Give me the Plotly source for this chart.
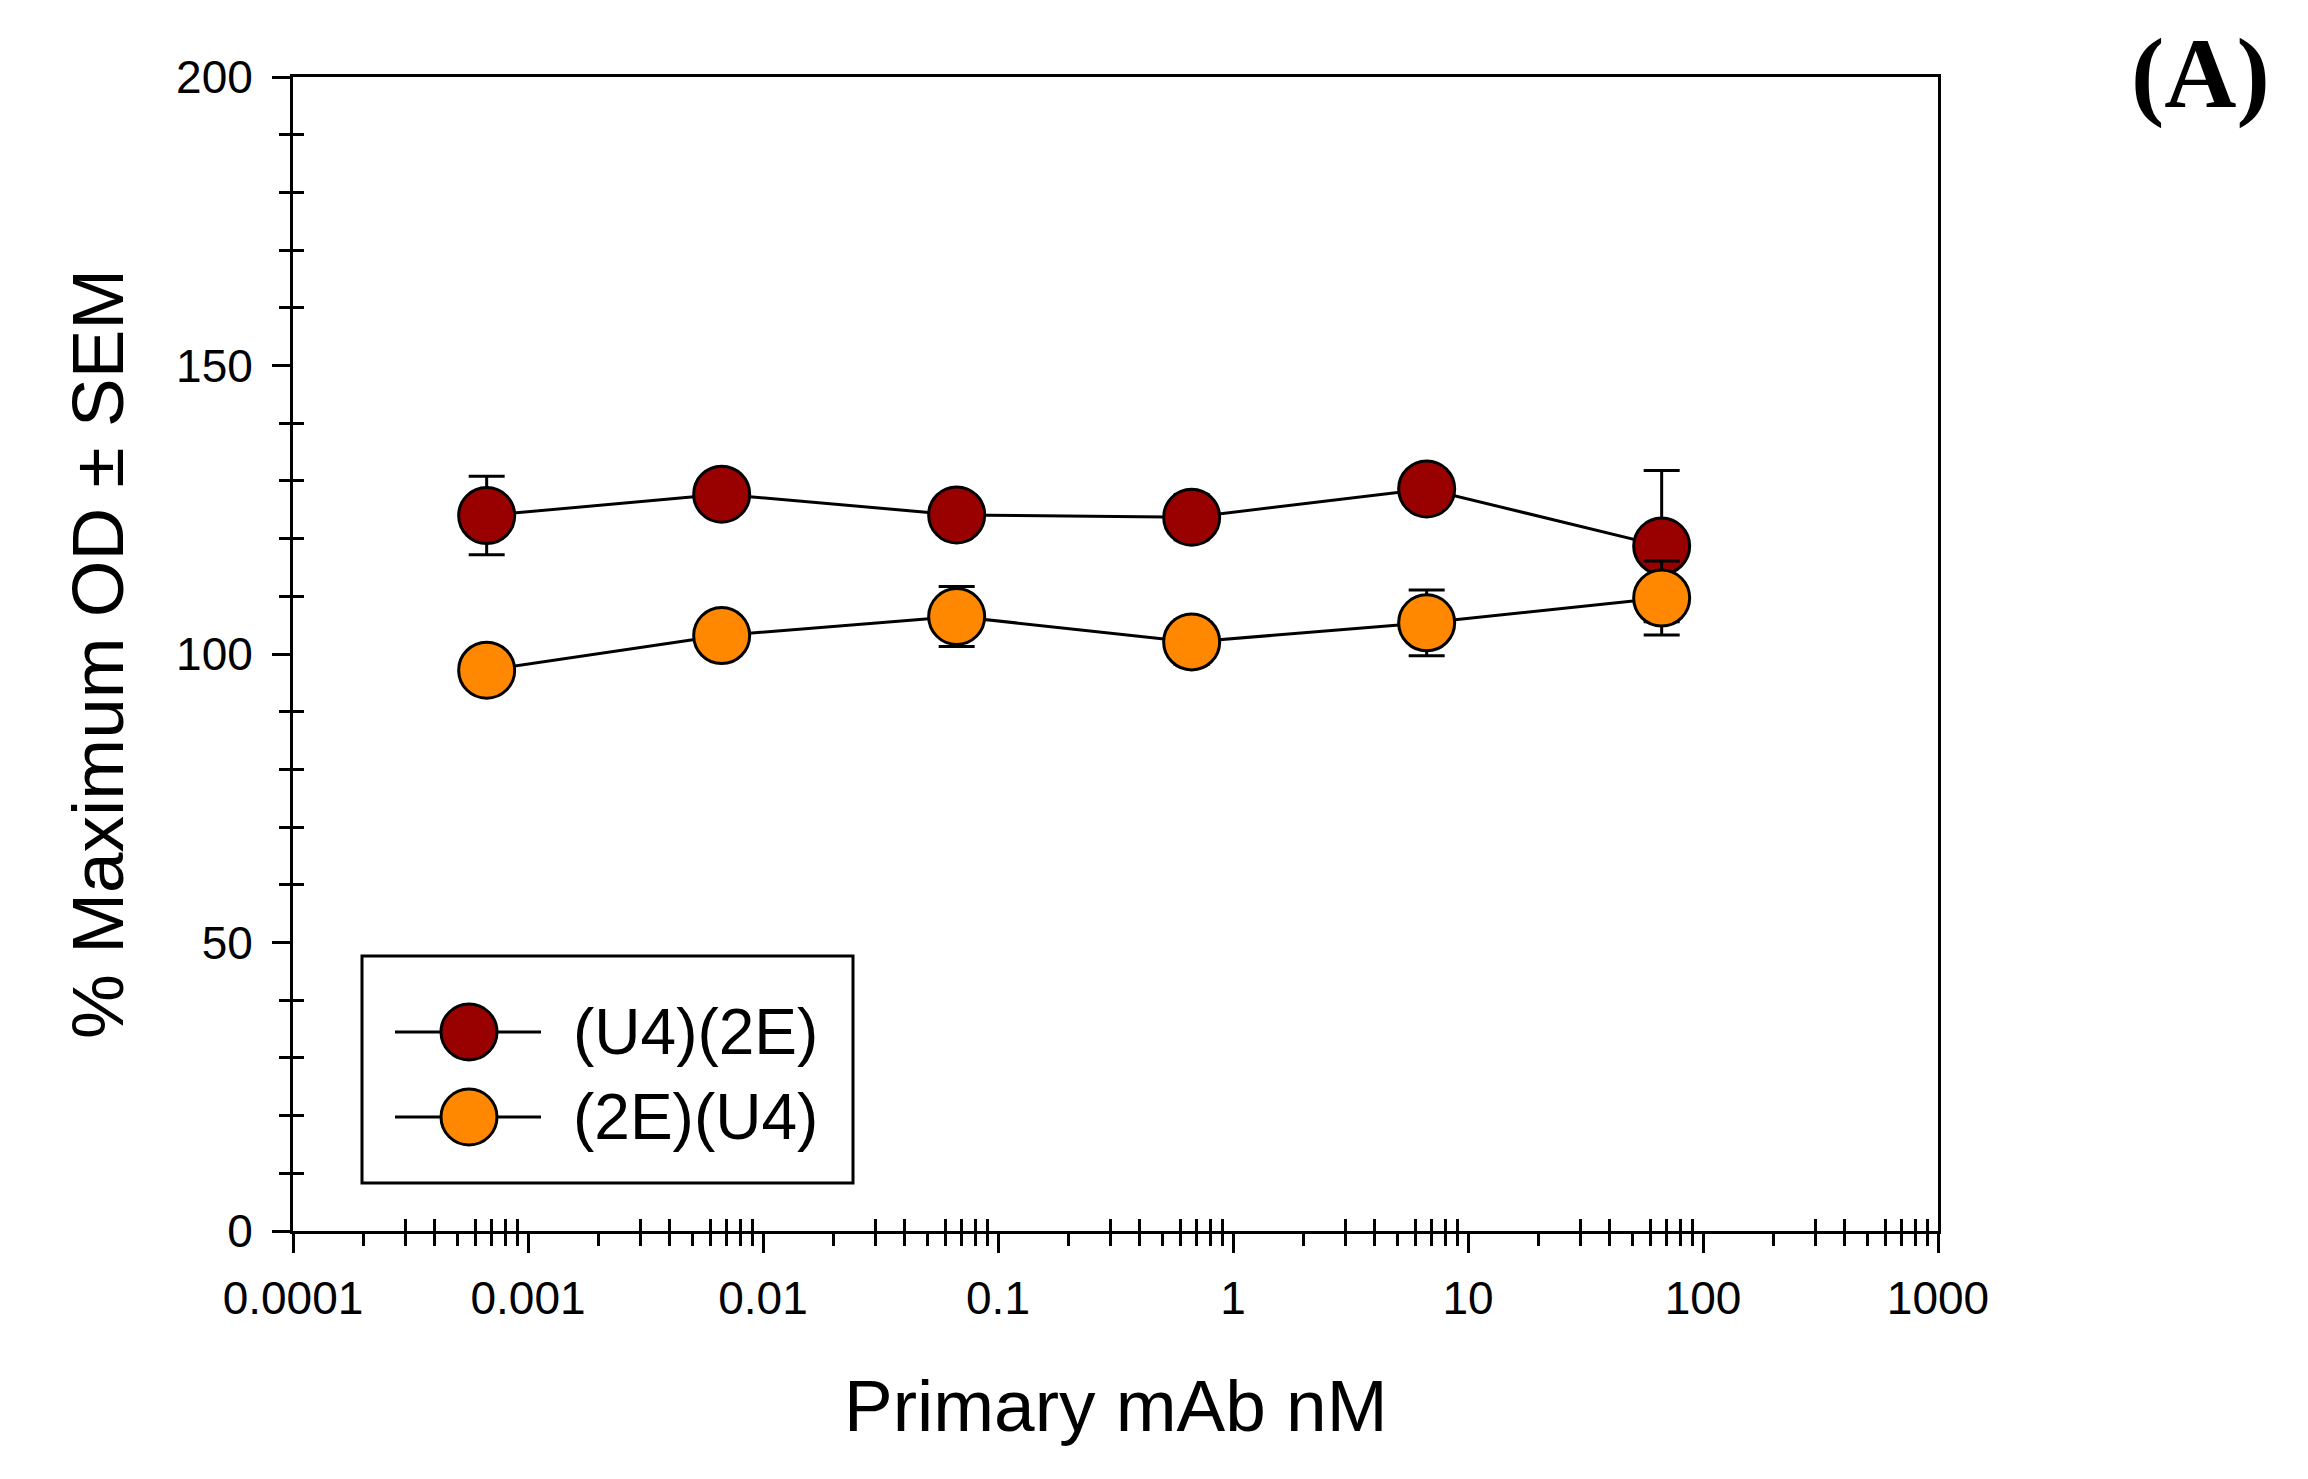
import plotly.graph_objects as go

# ---- data ----
conc_nM = [0.000667, 0.00667, 0.0667, 0.667, 6.67, 66.7]
u4_2e_mean = [124.0, 127.7, 124.1, 123.7, 128.6, 118.7]
u4_2e_sem = [6.8, 2.5, 2.0, 3.9, 2.0, 13.1]
e2_u4_mean = [97.2, 103.2, 106.5, 102.1, 105.4, 109.7]
e2_u4_sem = [2.0, 3.0, 5.2, 3.9, 5.7, 6.4]
series_names = ["(U4)(2E)", "(2E)(U4)"]
series_colors = ["#990000", "#FF8800"]

x_tick_vals = [0.0001, 0.001, 0.01, 0.1, 1, 10, 100, 1000]
x_tick_text = ["0.0001", "0.001", "0.01", "0.1", "1", "10", "100", "1000"]
y_tick_vals = [0, 50, 100, 150, 200]

FONT = "Liberation Sans, Arial, sans-serif"
OFF = 8  # page body margin offset
W, H = 2308 - 2 * OFF, 1479 - 2 * OFF
PLOT_L, PLOT_R, PLOT_T, PLOT_B = 293, 1938, 77, 1231  # screen pixels
PW, PH = PLOT_R - PLOT_L, PLOT_B - PLOT_T
L, T = PLOT_L - OFF, PLOT_T - OFF
R, B = W - L - PW, H - T - PH


def px_x(px):
    return (px - PLOT_L) / PW


def px_y(py):
    return (PLOT_B - py) / PH


fig = go.Figure()
for means, sems, name, col in [
    (u4_2e_mean, u4_2e_sem, series_names[0], series_colors[0]),
    (e2_u4_mean, e2_u4_sem, series_names[1], series_colors[1]),
]:
    fig.add_trace(go.Scatter(
        x=conc_nM, y=means, name=name, mode="lines+markers",
        line=dict(color="black", width=3),
        marker=dict(size=56, color=col, line=dict(color="black", width=3)),
        error_y=dict(type="data", array=sems, visible=True, color="black",
                     thickness=3, width=18),
        showlegend=False, cliponaxis=False,
    ))

axis_common = dict(showgrid=False, zeroline=False)

fig.update_layout(
    width=W, height=H,
    margin=dict(l=L, r=R, t=T, b=B, autoexpand=False),
    paper_bgcolor="white", plot_bgcolor="white",
    font=dict(family=FONT, color="black"),
    xaxis=dict(
        type="log", range=[-4, 3], **axis_common,
        showline=True, linecolor="black", linewidth=3, mirror=True,
        tickmode="array", tickvals=x_tick_vals, ticktext=x_tick_text,
        ticks="outside", ticklen=19, tickwidth=3, tickcolor="black",
        tickfont=dict(size=46, family=FONT, color="black"),
        ticklabelstandoff=6,
        minor=dict(ticks="outside", ticklen=12, tickwidth=3,
                   tickcolor="black", dtick="D1", showgrid=False),
    ),
    xaxis2=dict(
        type="log", range=[-4, 3], overlaying="x", anchor="y", side="bottom",
        **axis_common, showline=False, showticklabels=False, ticks="",
        minor=dict(ticks="inside", ticklen=12, tickwidth=3,
                   tickcolor="black", dtick="D1", showgrid=False),
    ),
    yaxis=dict(
        range=[0, 200], **axis_common,
        showline=True, linecolor="black", linewidth=3, mirror=True,
        tickmode="array", tickvals=y_tick_vals,
        ticks="outside", ticklen=18, tickwidth=3, tickcolor="black",
        tickfont=dict(size=46, family=FONT, color="black"),
        ticklabelstandoff=10,
        minor=dict(ticks="outside", ticklen=11, tickwidth=3,
                   tickcolor="black", dtick=10, showgrid=False),
    ),
    yaxis2=dict(
        range=[0, 200], overlaying="y", anchor="x", side="left",
        **axis_common, showline=False, showticklabels=False, ticks="",
        tickmode="linear", tick0=0, dtick=50,
        minor=dict(ticks="inside", ticklen=11, tickwidth=3,
                   tickcolor="black", dtick=10, showgrid=False),
    ),
)

# invisible helper trace so the overlay axes are rendered
fig.add_trace(go.Scatter(x=[conc_nM[0]], y=[u4_2e_mean[0]], xaxis="x2", yaxis="y2",
                         mode="markers", marker=dict(opacity=0), showlegend=False,
                         hoverinfo="skip"))

annotations = [
    dict(text="Primary mAb nM", xref="paper", yref="paper", x=0.5, y=px_y(1405),
         xanchor="center", yanchor="middle", showarrow=False,
         font=dict(size=73, family=FONT, color="black")),
    dict(text="% Maximum OD ± SEM", xref="paper", yref="paper", x=px_x(97), y=0.5,
         xanchor="center", yanchor="middle", textangle=-90, showarrow=False,
         font=dict(size=73, family=FONT, color="black")),
    dict(text="<b>(A)</b>", xref="paper", yref="paper", x=px_x(2200), y=px_y(73),
         xanchor="center", yanchor="middle", showarrow=False,
         font=dict(size=100, family="Liberation Serif, Times New Roman, serif",
                   color="black")),
]

# custom legend
shapes = [dict(type="rect", xref="paper", yref="paper",
               x0=px_x(362), x1=px_x(853), y0=px_y(1183), y1=px_y(956),
               line=dict(color="black", width=3), fillcolor="white", layer="above")]
rows_py = [1032, 1117]
for name, col, py in zip(series_names, series_colors, rows_py):
    shapes.append(dict(type="line", xref="paper", yref="paper",
                       x0=px_x(395), x1=px_x(541), y0=px_y(py), y1=px_y(py),
                       line=dict(color="black", width=3), layer="above"))
    shapes.append(dict(type="circle", xref="paper", yref="paper",
                       xsizemode="pixel", ysizemode="pixel",
                       xanchor=px_x(469), yanchor=px_y(py),
                       x0=-28, x1=28, y0=-28, y1=28,
                       line=dict(color="black", width=3), fillcolor=col,
                       layer="above"))
    annotations.append(dict(text=name, xref="paper", yref="paper",
                            x=px_x(571), y=px_y(py), xanchor="left",
                            yanchor="middle", showarrow=False,
                            font=dict(size=64, family=FONT, color="black")))

fig.update_layout(annotations=annotations, shapes=shapes)

fig.write_html("out.html")
